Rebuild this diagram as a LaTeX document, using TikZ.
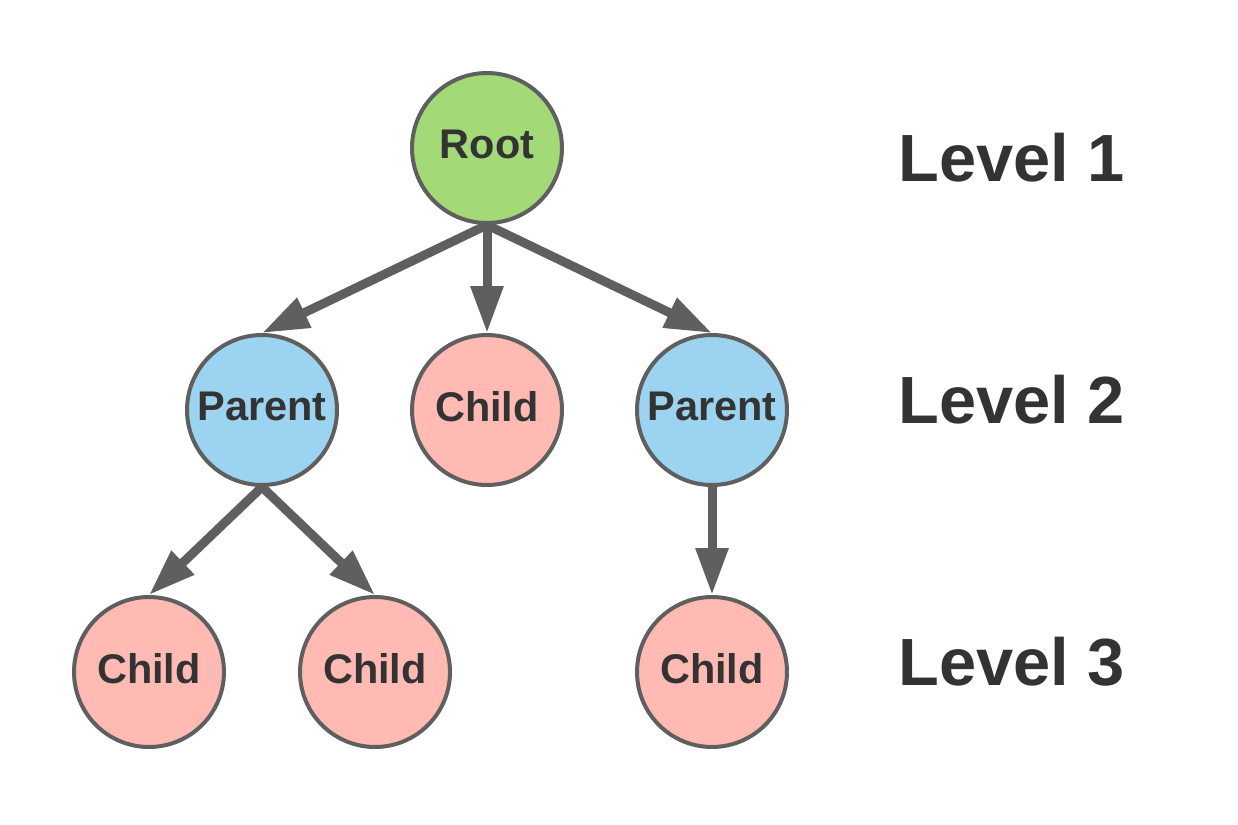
\documentclass[tikz,border=0pt]{standalone}
\usepackage{fontspec}
\setmainfont{Liberation Sans}
\usetikzlibrary{arrows.meta}
\definecolor{edgegray}{HTML}{5F5F5F}
\definecolor{txtgray}{HTML}{333333}
\definecolor{rootgreen}{HTML}{A3D977}
\definecolor{parentblue}{HTML}{9CD3F0}
\definecolor{childpink}{HTML}{FFBBB3}
\tikzset{
  treenode/.style={circle, draw=edgegray, line width=0.08cm, minimum size=3.0cm, inner sep=0pt,
    text=txtgray, text depth=0.16cm, font=\fontsize{23.6pt}{26pt}\selectfont\bfseries},
  rootnode/.style={treenode, fill=rootgreen},
  parentnode/.style={treenode, fill=parentblue},
  childnode/.style={treenode, fill=childpink},
  link/.style={draw=edgegray, line width=0.18cm, -{Triangle[length=0.94cm, width=0.62cm]}},
  levellabel/.style={anchor=base west, inner sep=0pt, text=txtgray, font=\fontsize{38pt}{44pt}\selectfont\bfseries}
}
\begin{document}
\begin{tikzpicture}[x=0.02cm, y=-0.02cm]
\useasboundingbox (0,0) rectangle (1238,825);
\node[rootnode] (root) at (487,148) {Root};
\node[parentnode] (p1) at (262,410) {Parent};
\node[childnode] (c1) at (487,410) {Child};
\node[parentnode] (p2) at (712,410) {Parent};
\node[childnode] (c11) at (149,672) {Child};
\node[childnode] (c12) at (375,672) {Child};
\node[childnode] (c21) at (712,672) {Child};
\draw[link] (root.south) -- (p1.north);
\draw[link] (root.south) -- (c1.north);
\draw[link] (root.south) -- (p2.north);
\draw[link] (p1.south) -- (c11.north);
\draw[link] (p1.south) -- (c12.north);
\draw[link] (p2.south) -- (c21.north);
\node[levellabel] (l1) at (898,181) {Level 1};
\node[levellabel] (l2) at (898,423) {Level 2};
\node[levellabel] (l3) at (898,685) {Level 3};
\end{tikzpicture}
\end{document}
